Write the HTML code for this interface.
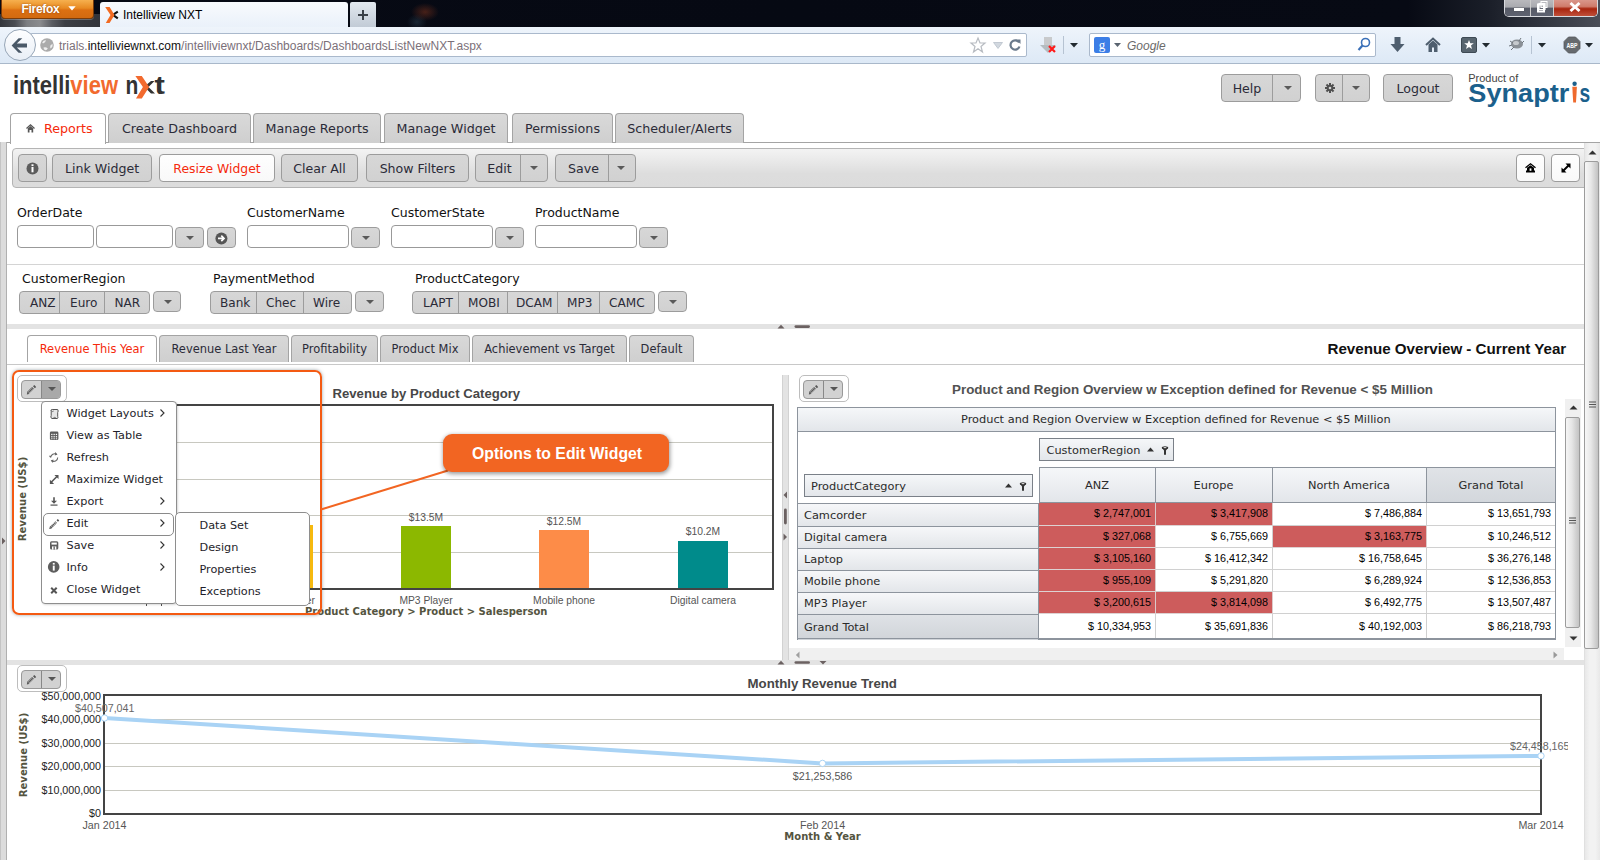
<!DOCTYPE html>
<html><head><meta charset="utf-8"><title>Intelliview NXT</title>
<style>
*{box-sizing:border-box;margin:0;padding:0}
html,body{width:1600px;height:860px;overflow:hidden;background:#fff}
body{position:relative;font-family:"DejaVu Sans","Liberation Sans",sans-serif;color:#333}
.a{position:absolute}
.ui{font-family:"DejaVu Sans",sans-serif;font-size:12.6px;color:#333;white-space:nowrap}
.ar{font-family:"Liberation Sans",Arial,sans-serif;white-space:nowrap}
svg{position:absolute;overflow:visible}
/* title bar */
#titlebar{left:0;top:0;width:1600px;height:27px;background:linear-gradient(90deg,#070a14 0,#060913 50%,#070a14 88%,#1a1e28 93%,#4a4e58 100%)}
#ffstrip{left:0;top:14px;width:100px;height:13px;background:linear-gradient(90deg,#34363c 0,#4a4c52 15%,#7c7e82 27%,#8a8b8e 40%,#5a5c62 52%,#3c3e44 65%,#32343a 100%)}
#ffbtn{left:1px;top:0;width:93px;height:19px;border-radius:0 0 4px 4px;background:linear-gradient(#f6b04e,#e88a22 45%,#dc7012 55%,#d26a10);border:1px solid #7a3c0a;border-top:none;box-shadow:0 1px 0 rgba(255,255,255,.25)}
#ffbtn span{position:absolute;left:19.5px;top:2px;color:#fff;letter-spacing:-0.3px;font:bold 12px "Liberation Sans",sans-serif;text-shadow:0 0 2px rgba(120,50,0,.8)}
#tab{left:100px;top:2px;width:248px;height:25px;background:linear-gradient(#f8fafd,#eaf1fa);border-radius:3px 3px 0 0}
#tabtitle{left:123px;top:8px;font:12px "Liberation Sans",sans-serif;color:#000}
#newtab{left:350px;top:2px;width:26px;height:25px;background:linear-gradient(#e2e8ef,#c2cbd6);border-radius:2px 2px 0 0}
#winctl{left:1504px;top:0;width:94px;height:17px;border:1px solid #d8dadf;border-top:none;border-radius:0 0 5px 5px;overflow:hidden;background:#222}
/* nav bar */
#navbar{left:0;top:27px;width:1600px;height:37px;background:linear-gradient(#eef4fb,#dde9f6);border-bottom:1px solid #a9b8ca}
#url{left:30px;top:33px;width:997px;height:24px;background:#fff;border:1px solid #aab9cc;border-radius:2px}
#urltext{left:59px;top:38.5px;font:12px "Liberation Sans",sans-serif;color:#7b7079}
#urltext b{font-weight:normal;color:#111}
#search{left:1089px;top:33px;width:287px;height:24px;background:#fff;border:1px solid #aab9cc;border-radius:2px}
#back{left:4px;top:29px;width:32px;height:32px;border-radius:50%;background:linear-gradient(#fdfeff,#e9eff6);border:1px solid #97a6b7}

/* page */
.btn{position:absolute;background:linear-gradient(#d7d7d7,#d1d1d1);border:1px solid #9c9c9c;border-radius:4px}
.btn .t{position:absolute;left:0;right:0;text-align:center;font-family:"DejaVu Sans",sans-serif;font-size:12.6px;color:#2b2b38;white-space:nowrap}
.dv{position:absolute;top:0;bottom:0;width:1px;background:#9c9c9c}
.tri{position:absolute;width:0;height:0;border-left:4px solid transparent;border-right:4px solid transparent;border-top:4px solid #5a5a5a}
.mtab{position:absolute;top:113px;height:30px;background:linear-gradient(#d9d9d9,#cfcfcf);border:1px solid #a4a4a4;border-bottom:none;border-radius:4px 4px 0 0}
.mtab .t{position:absolute;left:0;right:0;top:7px;text-align:center;font-family:"DejaVu Sans",sans-serif;font-size:12.7px;color:#2b2b38;white-space:nowrap}

.wbtn{position:absolute;background:linear-gradient(#fefefe,#f9f9f9);border:1px solid #9c9c9c;border-radius:4px}
.lbl{position:absolute;font-family:"DejaVu Sans",sans-serif;font-size:12.5px;line-height:15px;color:#111;white-space:nowrap}
.inp{position:absolute;top:225px;height:23px;background:#fff;border:1px solid #999;border-radius:4px}
.sg{position:absolute;font-family:"DejaVu Sans",sans-serif;font-size:12.1px;line-height:15px;color:#2b2b38;white-space:nowrap}

.dtab{position:absolute;top:335px;height:26.5px;background:linear-gradient(#d8d8d8,#cfcfcf);border:1px solid #a4a4a4;border-bottom:none;border-radius:4px 4px 0 0}
.dtab .t{position:absolute;left:0;right:0;top:6px;text-align:center;font-family:"DejaVu Sans",sans-serif;font-size:11.45px;line-height:15px;color:#2b2b38;white-space:nowrap}
.wtb{position:absolute;width:50px;height:27px;border:1px solid #bdbdbd;border-radius:5px;background:#fff}
.wtb .g{position:absolute;left:3px;top:4px;width:40px;height:19px;border:1px solid #999;border-radius:4px;background:#d2d2d2;overflow:hidden}
.gl{position:absolute;left:0;right:0;height:1px;background:#c8c8c0}
.bl{position:absolute;font-family:"Liberation Sans",Arial,sans-serif;font-size:10.3px;line-height:12px;color:#555;white-space:nowrap;transform:translateX(-50%)}

.mi{position:absolute;left:24.5px;font-family:"DejaVu Sans",sans-serif;font-size:11.25px;line-height:14px;color:#1e1e2a;white-space:nowrap}
.chev{position:absolute;left:118px;width:5px;height:8px}

.th{position:absolute;background:linear-gradient(#f5f7f9,#e3e6ea);border:1px solid #8d949d}
.tt{position:absolute;font-family:"DejaVu Sans",sans-serif;font-size:11.35px;line-height:14px;color:#2a2a2a;white-space:nowrap}
.rh{position:absolute;left:797px;width:242px;background:linear-gradient(#f6f7f9,#e2e5e9);border:1px solid #8d949d;border-bottom:none}
.rh .tt{left:6px}
.c{position:absolute;border-right:1px solid #d0d0d0;border-bottom:1px solid #d0d0d0;background:#fff;font-family:"Liberation Sans",Arial,sans-serif;font-size:10.8px;color:#000;text-align:right;padding-right:4px;padding-bottom:4.5px;white-space:nowrap}
.c.r{background:#cd5c5c;border-right-color:#dccaca;border-bottom-color:#ddd2d2}
</style></head><body>

<!-- ========== BROWSER CHROME ========== -->
<div class="a" id="titlebar"></div>
<div class="a" id="ffstrip"></div>
<div class="a" style="left:395px;top:0;width:50px;height:27px;background:radial-gradient(ellipse 14px 9px at 30px 12px,rgba(150,60,30,.45),rgba(0,0,0,0)),radial-gradient(ellipse 10px 8px at 22px 22px,rgba(60,90,110,.35),rgba(0,0,0,0))"></div>
<div class="a" id="ffbtn"><span>Firefox</span>
 <svg style="left:65.5px;top:6px" width="9" height="6"><path d="M0.3 0.3H7.7L4 4.5Z" fill="#fff"/></svg></div>
<div class="a" id="tab"></div>
<svg style="left:105px;top:7px" width="14" height="16"><path d="M8.6 7.4L12.8 4.6M8.6 8.4L12.8 11.4" stroke="#111" stroke-width="2.1"/><path d="M0.2 0.1H4.6L9.5 7.9L4.6 15.9H0.8L5.5 7.9Z" fill="#f26a21"/></svg>
<div class="a" id="tabtitle">Intelliview NXT</div>
<div class="a" id="newtab"></div>
<svg style="left:357px;top:9px" width="12" height="12"><path d="M6 1V11M1 6H11" stroke="#3a4048" stroke-width="2"/></svg>
<div class="a" id="winctl">
  <div class="a" style="left:0;top:0;width:26px;height:16px;background:linear-gradient(#b9b9bd 0,#a9aaaf 45%,#565a66 50%,#5e6270 100%);border-right:1px solid #ccc"></div>
  <div class="a" style="left:26px;top:0;width:23px;height:16px;background:linear-gradient(#b9b9bd 0,#a9aaaf 45%,#565a66 50%,#5e6270 100%);border-right:1px solid #ccc"></div>
  <div class="a" style="left:49px;top:0;width:44px;height:16px;background:linear-gradient(#d9968a 0,#d07c6c 40%,#a8240e 55%,#c0503a 100%)"></div>
  <div class="a" style="left:9px;top:8px;width:10px;height:3px;background:#fff;box-shadow:0 0 1px #333"></div>
  <svg style="left:32px;top:1px" width="12" height="12"><rect x="4" y="0.5" width="6" height="6" fill="none" stroke="#fff" stroke-width="1"/><rect x="2" y="2.5" width="6" height="6" fill="none" stroke="#fff" stroke-width="1.2"/><rect x="1" y="3.5" width="6" height="7" fill="none" stroke="#fff" stroke-width="2"/></svg>
  <svg style="left:64px;top:2px" width="12" height="10"><path d="M1.5 1L10.5 9M10.5 1L1.5 9" stroke="#fff" stroke-width="3"/></svg>
</div>
<div class="a" id="navbar"></div>
<div class="a" id="url"></div>
<div class="a" id="back"></div>
<svg style="left:11px;top:36.5px" width="17" height="17"><path d="M0.6 8.5L7.6 1.3H11.3L5.8 6.6H16V10.4H5.8L11.3 15.7H7.6Z" fill="#4a5968"/></svg>
<svg style="left:40px;top:37.7px" width="15" height="15"><circle cx="7" cy="7" r="6.8" fill="#ababab"/><path d="M2.2 4.5Q3.5 2 6 2.3Q5.5 4.5 3 5.5Z" fill="#eee"/><path d="M3.5 9.5Q6 8.5 7.8 10.5Q7 12.5 5 12.3Q3.5 11 3.5 9.5Z" fill="#eee"/><path d="M10.5 7.5Q12 5.5 12.8 6.5Q12.8 9.5 10.5 10.5Q9.8 9 10.5 7.5Z" fill="#eee"/></svg>
<div class="a" id="urltext">trials.<b>intelliviewnxt.com</b>/intelliviewnxt/Dashboards/DashboardsListNewNXT.aspx</div>
<svg style="left:970px;top:37px" width="16" height="16"><path d="M8 1L10 6H15L11 9.5L12.5 15L8 11.8L3.5 15L5 9.5L1 6H6Z" fill="#fff" stroke="#b8bcc2" stroke-width="1.2"/></svg>
<svg style="left:993px;top:42px" width="10" height="7"><path d="M0.5 0.5H9.5L5 6.5Z" fill="#d2d8df" stroke="#b8c0ca" stroke-width=".8"/></svg>
<svg style="left:1009px;top:38px" width="12" height="13"><path d="M10 4.5A4.6 4.6 0 1 0 10.5 8.5" fill="none" stroke="#6a7a8c" stroke-width="2.2"/><path d="M7 1.5H11.5V6Z" fill="#6a7a8c"/></svg>
<svg style="left:1040px;top:37px" width="17" height="17"><rect x="4" y="0" width="8" height="8" fill="#c8cacc"/><path d="M0 8H16L8 16Z" fill="#b4bcc0"/><path d="M9 9L15 15M15 9L9 15" stroke="#ff1a1a" stroke-width="2.2"/></svg>
<div class="a" style="left:1063px;top:36px;width:1px;height:18px;background:#b6c3d2"></div>
<svg style="left:1070px;top:43px" width="8" height="5"><path d="M0 0H8L4 4.5Z" fill="#222a30"/></svg>
<div class="a" id="search"></div>
<div class="a" style="left:1094px;top:37px;width:16px;height:16px;background:#3c7ee6;border-radius:2px;color:#fff;font:13px 'Liberation Serif',serif;text-align:center;line-height:15px">g</div>
<svg style="left:1114px;top:43px" width="7" height="4"><path d="M0 0H7L3.5 4Z" fill="#5a6470"/></svg>
<div class="a" style="left:1127px;top:39px;font:italic 12px 'Liberation Sans',sans-serif;color:#6a6a6a">Google</div>
<svg style="left:1357px;top:37px" width="14" height="15"><circle cx="8.5" cy="5.5" r="4" fill="none" stroke="#3a70b8" stroke-width="1.6"/><path d="M5.5 8.5L1.5 13" stroke="#3a70b8" stroke-width="2.2"/></svg>
<svg style="left:1390px;top:37px" width="15" height="16"><path d="M4.5 0H10.5V7H14.5L7.5 15L0.5 7H4.5Z" fill="#4e5e6e"/></svg>
<svg style="left:1425px;top:37px" width="16" height="16"><path d="M1 8L8 1.5L15 8" fill="none" stroke="#4e5e6e" stroke-width="2"/><path d="M3.5 7.5V15H7V10.5H9V15H12.5V7.5L8 3.5Z" fill="#4e5e6e"/></svg>
<svg style="left:1461px;top:37px" width="17" height="16"><rect x="0.5" y="0.5" width="15" height="15" rx="1.5" fill="#58656f" stroke="#3e4a54"/><path d="M8 3L9.3 6.3H12.8L10 8.5L11 12L8 10L5 12L6 8.5L3.2 6.3H6.7Z" fill="#fff"/></svg>
<svg style="left:1482px;top:43px" width="8" height="5"><path d="M0 0H8L4 4.5Z" fill="#222a30"/></svg>
<svg style="left:1508px;top:37px" width="17" height="15"><ellipse cx="9" cy="7" rx="6" ry="4.5" fill="#8a9096"/><ellipse cx="8" cy="6" rx="3" ry="2" fill="#c6cacd"/><path d="M2 4L5 6M1 9L4 8M3 13L6 10M13 1L11 4M16 4L14 6" stroke="#6f767c" stroke-width="1"/></svg>
<div class="a" style="left:1531px;top:36px;width:1px;height:18px;background:#b6c3d2"></div>
<svg style="left:1538px;top:43px" width="8" height="5"><path d="M0 0H8L4 4.5Z" fill="#222a30"/></svg>
<svg style="left:1563px;top:36px" width="18" height="18"><path d="M5.5 1H12.5L17 5.5V12.5L12.5 17H5.5L1 12.5V5.5Z" fill="#666a6e" stroke="#55595d" stroke-width=".8"/><text x="9" y="11.8" font-family="Liberation Sans" font-size="6.5" font-weight="bold" fill="#fff" text-anchor="middle" textLength="11" lengthAdjust="spacingAndGlyphs">ABP</text></svg>
<svg style="left:1585px;top:43px" width="8" height="5"><path d="M0 0H8L4 4.5Z" fill="#222a30"/></svg>

<!-- PAGE -->
<!-- logo -->
<svg style="left:12px;top:70px" width="160" height="32">
 <text x="1" y="24" font-family="Liberation Sans" font-weight="bold" font-size="25.5" fill="#333" textLength="105" lengthAdjust="spacingAndGlyphs">intelli<tspan fill="#f26a2e">view</tspan></text>
 <text x="113.5" y="24" font-family="Liberation Sans" font-weight="bold" font-size="25.5" fill="#333" textLength="12.8" lengthAdjust="spacingAndGlyphs">n</text>
 <path d="M133 16L139 11H142.5L136 17.5Z M133 17.5L136 16.5L143 23.6H139Z" fill="#333"/>
 <path d="M123.4 6H129.8L137.2 16.9L129.8 28.5H124L130.9 16.9Z" fill="#f26a2e"/>
 <text x="142.4" y="24" font-family="Liberation Sans" font-weight="bold" font-size="25.5" fill="#333" textLength="10.4" lengthAdjust="spacingAndGlyphs">t</text>
</svg>
<!-- header buttons -->
<div class="btn" style="left:1221px;top:74px;width:80px;height:28px"><div class="t" style="top:6px;width:50px">Help</div><div class="dv" style="left:50px"></div><div class="tri" style="left:62px;top:11px"></div></div>
<div class="btn" style="left:1315px;top:74px;width:55px;height:28px"><div class="dv" style="left:26px"></div><div class="tri" style="left:36px;top:11px"></div>
 <svg style="left:9px;top:8px" width="10" height="10"><g fill="#505050"><circle cx="5" cy="5" r="3.3"/><rect x="4" y="0" width="2" height="10"/><rect x="0" y="4" width="10" height="2"/><rect x="4" y="0" width="2" height="10" transform="rotate(45 5 5)"/><rect x="4" y="0" width="2" height="10" transform="rotate(-45 5 5)"/></g><circle cx="5" cy="5" r="1.3" fill="#d4d4d4"/></svg></div>
<div class="btn" style="left:1383px;top:74px;width:70px;height:28px"><div class="t" style="top:6px">Logout</div></div>
<svg style="left:1466px;top:70px" width="60" height="14"><text x="2.3" y="11.6" font-family="Liberation Sans" font-size="10.3" fill="#444" textLength="49.9" lengthAdjust="spacingAndGlyphs">Product of</text></svg>
<svg style="left:1466px;top:78px" width="130" height="34">
 <text x="2.3" y="24.1" font-family="Liberation Sans" font-weight="bold" font-size="26.5" fill="#1b608c" textLength="101" lengthAdjust="spacingAndGlyphs">Synaptr</text>
 <path d="M106.3 8.8H110.9L110 24.6H107.2Z" fill="#ef6a2e"/><circle cx="108.6" cy="5.7" r="2.2" fill="#1b608c"/>
 <text x="113.4" y="24.1" font-family="Liberation Sans" font-weight="bold" font-size="26.5" fill="#1b608c" textLength="10.7" lengthAdjust="spacingAndGlyphs">s</text>
</svg>
<!-- main tabs -->
<div class="a" style="left:0;top:142px;width:1600px;height:1px;background:#a4a4a4"></div>
<div class="mtab" style="left:10px;width:96px;height:31px;background:#fff"><div class="t" style="left:33px;text-align:left;color:#f52a0c">Reports</div>
 <svg style="left:15px;top:10px" width="9" height="9"><path d="M0.5 4.5L4.5 0.8L8.5 4.5" fill="none" stroke="#555" stroke-width="1.3"/><path d="M1.8 4.5L4.5 2L7.2 4.5V8.5H5.5V6H3.5V8.5H1.8Z" fill="#555"/></svg></div>
<div class="mtab" style="left:108px;width:143px"><div class="t">Create Dashboard</div></div>
<div class="mtab" style="left:253px;width:128px"><div class="t">Manage Reports</div></div>
<div class="mtab" style="left:384px;width:124px"><div class="t">Manage Widget</div></div>
<div class="mtab" style="left:512px;width:101px"><div class="t">Permissions</div></div>
<div class="mtab" style="left:615px;width:129px"><div class="t">Scheduler/Alerts</div></div>


<!-- content frame -->
<div class="a" style="left:0;top:142px;width:7px;height:718px;background:#dcdcdc;border-left:1px solid #c4c4c4;border-right:1px solid #b0b0b0"></div>
<!-- toolbar -->
<div class="a" style="left:12px;top:148px;width:1580px;height:40px;border:1px solid #b4b4b4;border-radius:4px;background:linear-gradient(#f3f3f3,#e6e6e6 40%,#dddddd 65%,#dcdcdc)"></div>
<div class="btn" style="left:18px;top:154px;width:29px;height:28px"><svg style="left:7px;top:7px" width="13" height="13"><circle cx="6.5" cy="6.5" r="6" fill="#5c5c5c"/><rect x="5.5" y="2.3" width="2" height="1.8" fill="#fff"/><rect x="5.5" y="5" width="2" height="5.3" fill="#fff"/></svg></div>
<div class="btn" style="left:52px;top:154px;width:100px;height:28px"><div class="t" style="top:6px">Link Widget</div></div>
<div class="wbtn" style="left:159px;top:154px;width:116px;height:28px"><div class="t" style="position:absolute;left:0;right:0;top:6px;text-align:center;font-family:'DejaVu Sans';font-size:12.4px;color:#f52a0c">Resize Widget</div></div>
<div class="btn" style="left:281px;top:154px;width:77px;height:28px"><div class="t" style="top:6px">Clear All</div></div>
<div class="btn" style="left:366px;top:154px;width:103px;height:28px"><div class="t" style="top:6px">Show Filters</div></div>
<div class="btn" style="left:475px;top:154px;width:73px;height:28px"><div class="t" style="top:6px;width:44px;padding-left:3px">Edit</div><div class="dv" style="left:44px"></div><div class="tri" style="left:54px;top:11px"></div></div>
<div class="btn" style="left:555px;top:154px;width:81px;height:28px"><div class="t" style="top:6px;width:52px;padding-left:3px">Save</div><div class="dv" style="left:52px"></div><div class="tri" style="left:61px;top:11px"></div></div>
<div class="wbtn" style="left:1516px;top:154px;width:29px;height:28px"><svg style="left:8px;top:8px" width="11" height="10"><path d="M0.5 4.8L5.5 0.8L10.5 4.8" fill="none" stroke="#000" stroke-width="1.3"/><path d="M2 4.8L5.5 2.2L9 4.8V7.6H10V9.4H1V7.6H2Z" fill="#000"/><rect x="4.6" y="5.4" width="1.8" height="2.4" fill="#fff"/></svg></div>
<div class="wbtn" style="left:1551px;top:154px;width:29px;height:28px"><svg style="left:9px;top:8px" width="10" height="10"><path d="M2 8L8 2" stroke="#000" stroke-width="2"/><path d="M4.5 0.5H9.5V5.5Z M0.5 4.5V9.5H5.5Z" fill="#000"/></svg></div>
<!-- filters row 1 -->
<div class="lbl" style="left:17px;top:205px">OrderDate</div>
<div class="inp" style="left:17px;width:77px"></div><div class="inp" style="left:96px;width:77px"></div>
<div class="btn" style="left:175px;top:227px;width:29px;height:21px"><div class="tri" style="left:10px;top:8px"></div></div>
<div class="btn" style="left:207px;top:227px;width:29px;height:21px"><svg style="left:6.5px;top:3.8px" width="13" height="13"><circle cx="6.4" cy="6.4" r="6" fill="#555"/><path d="M3 6.4H8.6M6.3 3.7L9 6.4L6.3 9.1" fill="none" stroke="#fff" stroke-width="1.7"/></svg></div>
<div class="lbl" style="left:247px;top:205px">CustomerName</div>
<div class="inp" style="left:247px;width:102px"></div>
<div class="btn" style="left:351px;top:227px;width:29px;height:21px"><div class="tri" style="left:10px;top:8px"></div></div>
<div class="lbl" style="left:391px;top:205px">CustomerState</div>
<div class="inp" style="left:391px;width:102px"></div>
<div class="btn" style="left:495px;top:227px;width:29px;height:21px"><div class="tri" style="left:10px;top:8px"></div></div>
<div class="lbl" style="left:535px;top:205px">ProductName</div>
<div class="inp" style="left:535px;width:102px"></div>
<div class="btn" style="left:639px;top:227px;width:29px;height:21px"><div class="tri" style="left:10px;top:8px"></div></div>
<div class="a" style="left:7px;top:264px;width:1577px;height:1px;background:#d4d4d4"></div>
<!-- filters row 2 -->
<div class="lbl" style="left:22px;top:271px">CustomerRegion</div>
<div class="btn" style="left:19px;top:291px;width:131px;height:23px"><div class="dv" style="left:39.4px"></div><div class="dv" style="left:83.5px"></div>
 <div class="sg" style="top:3.6px;left:10px;">ANZ</div><div class="sg" style="top:3.6px;left:50px;">Euro</div><div class="sg" style="top:3.6px;left:94.5px;">NAR</div></div>
<div class="btn" style="left:153px;top:291px;width:28px;height:21px"><div class="tri" style="left:9.5px;top:8px"></div></div>
<div class="lbl" style="left:213px;top:271px">PaymentMethod</div>
<div class="btn" style="left:210px;top:291px;width:142px;height:23px"><div class="dv" style="left:45px"></div><div class="dv" style="left:91.5px"></div>
 <div class="sg" style="top:3.6px;left:9px;">Bank</div><div class="sg" style="top:3.6px;left:55px;">Chec</div><div class="sg" style="top:3.6px;left:102px;">Wire</div></div>
<div class="btn" style="left:355px;top:291px;width:29px;height:21px"><div class="tri" style="left:10px;top:8px"></div></div>
<div class="lbl" style="left:415px;top:271px">ProductCategory</div>
<div class="btn" style="left:412px;top:291px;width:243px;height:23px"><div class="dv" style="left:44.5px"></div><div class="dv" style="left:93.5px"></div><div class="dv" style="left:144px"></div><div class="dv" style="left:185.5px"></div>
 <div class="sg" style="top:3.6px;left:10px;">LAPT</div><div class="sg" style="top:3.6px;left:55px;">MOBI</div><div class="sg" style="top:3.6px;left:103px;">DCAM</div><div class="sg" style="top:3.6px;left:154px;">MP3</div><div class="sg" style="top:3.6px;left:196px;">CAMC</div></div>
<div class="btn" style="left:658px;top:291px;width:29px;height:21px"><div class="tri" style="left:10px;top:8px"></div></div>
<!-- splitter -->
<div class="a" style="left:7px;top:324px;width:1577px;height:5px;background:#e3e3e3"></div>
<svg style="left:777px;top:324px" width="40" height="6"><path d="M0.5 4.5L4 0.8L7.5 4.5Z" fill="#6b6161"/><rect x="17.5" y="1.3" width="15.5" height="2.6" rx="1.3" fill="#6b6161"/></svg>

<!-- dashboard tabs -->
<div class="a" style="left:7px;top:364px;width:1577px;height:1px;background:#c8c8c8"></div>
<div class="dtab" style="left:27px;width:130px;background:#fff"><div class="t" style="color:#f52a0c">Revenue This Year</div></div>
<div class="dtab" style="left:159px;width:130px"><div class="t">Revenue Last Year</div></div>
<div class="dtab" style="left:291px;width:87px"><div class="t">Profitability</div></div>
<div class="dtab" style="left:380px;width:90px"><div class="t">Product Mix</div></div>
<div class="dtab" style="left:472px;width:155px"><div class="t">Achievement vs Target</div></div>
<div class="dtab" style="left:629px;width:65px"><div class="t">Default</div></div>
<div class="a ar" style="left:1327.5px;top:340px;font-size:15.15px;font-weight:bold;color:#111;line-height:17px">Revenue Overview - Current Year</div>

<!-- vertical splitter -->
<div class="a" style="left:782px;top:375px;width:7px;height:285px;background:#e3e3e3;border-left:1px solid #d2d2d2;border-right:1px solid #d2d2d2"></div>
<svg style="left:782px;top:491px" width="7" height="50"><path d="M5 0.5V7.5L1.5 4Z" fill="#6b6161"/><rect x="2" y="17.5" width="2.8" height="16" rx="1.4" fill="#6b6161"/><path d="M1.5 42.5V49.5L5 46Z" fill="#6b6161"/></svg>

<!-- ===== CHART WIDGET (left) ===== -->
<div class="wtb" style="left:17px;top:375px"><div class="g"><div class="a" style="left:20px;top:0;width:19px;height:19px;background:#a9a9a9"></div><div class="dv" style="left:19px;background:#888"></div>
 <svg style="left:5px;top:4px" width="10" height="10"><path d="M0.8 8L6 2.8" stroke="#555" stroke-width="2.6" stroke-dasharray="1.1 .45"/><path d="M7.3 0L9.2 1.9L7.9 3.2L6 1.3Z" fill="#555"/><path d="M-0.2 9.6L0.3 7.2L2 8.9Z" fill="#555"/></svg>
 <div class="tri" style="left:25.5px;top:6px;border-top-color:#555;border-left-width:4.2px;border-right-width:4.2px;border-top-width:4.5px"></div></div></div>
<div class="a ar" style="left:332.5px;top:386px;font-size:13.15px;font-weight:bold;color:#474747;line-height:15px">Revenue by Product Category</div>
<!-- plot -->
<div class="a" style="left:60px;top:404px;width:714px;height:186px;border:2px solid #444;border-bottom-width:2.5px"></div>
<div class="gl" style="left:62px;width:710px;top:442px"></div>
<div class="gl" style="left:62px;width:710px;top:479px"></div>
<div class="gl" style="left:62px;width:710px;top:515px"></div>
<div class="gl" style="left:62px;width:710px;top:552px"></div>
<div class="a" style="left:263px;top:525px;width:50px;height:63px;background:#f6b90f"></div>
<div class="a" style="left:401px;top:526px;width:50px;height:62px;background:#8cb800"></div>
<div class="a" style="left:539px;top:530px;width:50px;height:58px;background:#fd8c48"></div>
<div class="a" style="left:678px;top:541px;width:50px;height:47px;background:#008b8b"></div>
<div class="bl" style="left:426px;top:512px">$13.5M</div>
<div class="bl" style="left:564px;top:516px">$12.5M</div>
<div class="bl" style="left:703px;top:525.5px">$10.2M</div>
<div class="bl" style="left:289.5px;top:595px">Camcorder</div>
<div class="bl" style="left:426px;top:595px">MP3 Player</div>
<div class="bl" style="left:564px;top:595px">Mobile phone</div>
<div class="bl" style="left:703px;top:595px">Digital camera</div>
<div class="a" style="left:305px;top:606px;font-family:'DejaVu Sans';font-weight:bold;font-size:10px;line-height:12px;color:#545440;white-space:nowrap">Product Category &gt; Product &gt; Salesperson</div>
<div class="a" style="left:23px;top:498.5px;width:0;height:0"><div style="position:absolute;left:-45px;top:-6px;width:90px;text-align:center;transform:rotate(-90deg);font-family:'DejaVu Sans';font-weight:bold;font-size:10.1px;line-height:12px;color:#545440;white-space:nowrap">Revenue (US$)</div></div>

<!-- ===== TABLE WIDGET (right) ===== -->
<div class="wtb" style="left:799px;top:375px"><div class="g"><div class="dv" style="left:19px;background:#888"></div>
 <svg style="left:5px;top:4px" width="10" height="10"><path d="M0.8 8L6 2.8" stroke="#555" stroke-width="2.6" stroke-dasharray="1.1 .45"/><path d="M7.3 0L9.2 1.9L7.9 3.2L6 1.3Z" fill="#555"/><path d="M-0.2 9.6L0.3 7.2L2 8.9Z" fill="#555"/></svg>
 <div class="tri" style="left:25.5px;top:6px;border-top-color:#555;border-left-width:4.2px;border-right-width:4.2px;border-top-width:4.5px"></div></div></div>
<div class="a ar" style="left:952px;top:382px;font-size:13.4px;font-weight:bold;color:#525252;line-height:16px">Product and Region Overview w Exception defined for Revenue &lt; $5 Million</div>
<div class="a" style="left:797px;top:407px;width:759px;height:233px;border:1px solid #8d949d;background:#fff"></div>
<div class="th" style="left:797px;top:407px;width:759px;height:25px"></div>
<div class="tt" style="left:961px;top:412px">Product and Region Overview w Exception defined for Revenue &lt; $5 Million</div>
<div class="th" style="left:1039px;top:438px;width:135px;height:23px;border-color:#7a8088"></div><div class="tt" style="left:1046.5px;top:442.7px">CustomerRegion</div>
<svg style="left:1146px;top:446px" width="24" height="10"><path d="M1 5.5L4.5 1.5L8 5.5Z" fill="#333"/><path d="M15.8 1.3H22.2L20 4.6V8.8H18V4.6Z" fill="#333"/><ellipse cx="19" cy="1.8" rx="3.2" ry="1.5" fill="#333"/><ellipse cx="19" cy="1.6" rx="1.6" ry=".6" fill="#ddd"/></svg>
<div class="th" style="left:804px;top:474px;width:229px;height:23px;border-color:#7a8088"></div><div class="tt" style="left:811px;top:478.7px">ProductCategory</div>
<svg style="left:1004px;top:482px" width="24" height="10"><path d="M1 5.5L4.5 1.5L8 5.5Z" fill="#333"/><path d="M15.8 1.3H22.2L20 4.6V8.8H18V4.6Z" fill="#333"/><ellipse cx="19" cy="1.8" rx="3.2" ry="1.5" fill="#333"/><ellipse cx="19" cy="1.6" rx="1.6" ry=".6" fill="#ddd"/></svg>
<div class="th" style="left:1039px;top:467px;width:117px;height:36px;"></div>
<div class="tt" style="left:1039px;width:116px;text-align:center;top:478px">ANZ</div>
<div class="th" style="left:1155px;top:467px;width:118px;height:36px;"></div>
<div class="tt" style="left:1155px;width:117px;text-align:center;top:478px">Europe</div>
<div class="th" style="left:1272px;top:467px;width:155px;height:36px;"></div>
<div class="tt" style="left:1272px;width:154px;text-align:center;top:478px">North America</div>
<div class="th" style="left:1426px;top:467px;width:130px;height:36px;background:linear-gradient(#e0e3e7,#d3d7dc);"></div>
<div class="tt" style="left:1426px;width:130px;text-align:center;top:478px">Grand Total</div>
<div class="rh" style="top:503px;height:23.5px;"><div class="tt" style="top:3.8px">Camcorder</div></div>
<div class="c r" style="left:1039px;top:503px;width:117px;height:22.5px;line-height:20.5px">$ 2,747,001</div>
<div class="c r" style="left:1156px;top:503px;width:117px;height:22.5px;line-height:20.5px">$ 3,417,908</div>
<div class="c" style="left:1273px;top:503px;width:154px;height:22.5px;line-height:20.5px">$ 7,486,884</div>
<div class="c" style="left:1427px;top:503px;width:129px;height:22.5px;line-height:20.5px">$ 13,651,793</div>
<div class="rh" style="top:525.5px;height:23.0px;"><div class="tt" style="top:3.5px">Digital camera</div></div>
<div class="c r" style="left:1039px;top:525.5px;width:117px;height:22.0px;line-height:20.0px">$ 327,068</div>
<div class="c" style="left:1156px;top:525.5px;width:117px;height:22.0px;line-height:20.0px">$ 6,755,669</div>
<div class="c r" style="left:1273px;top:525.5px;width:154px;height:22.0px;line-height:20.0px">$ 3,163,775</div>
<div class="c" style="left:1427px;top:525.5px;width:129px;height:22.0px;line-height:20.0px">$ 10,246,512</div>
<div class="rh" style="top:547.5px;height:23.0px;"><div class="tt" style="top:3.5px">Laptop</div></div>
<div class="c r" style="left:1039px;top:547.5px;width:117px;height:22.0px;line-height:20.0px">$ 3,105,160</div>
<div class="c" style="left:1156px;top:547.5px;width:117px;height:22.0px;line-height:20.0px">$ 16,412,342</div>
<div class="c" style="left:1273px;top:547.5px;width:154px;height:22.0px;line-height:20.0px">$ 16,758,645</div>
<div class="c" style="left:1427px;top:547.5px;width:129px;height:22.0px;line-height:20.0px">$ 36,276,148</div>
<div class="rh" style="top:569.5px;height:23.0px;"><div class="tt" style="top:3.5px">Mobile phone</div></div>
<div class="c r" style="left:1039px;top:569.5px;width:117px;height:22.0px;line-height:20.0px">$ 955,109</div>
<div class="c" style="left:1156px;top:569.5px;width:117px;height:22.0px;line-height:20.0px">$ 5,291,820</div>
<div class="c" style="left:1273px;top:569.5px;width:154px;height:22.0px;line-height:20.0px">$ 6,289,924</div>
<div class="c" style="left:1427px;top:569.5px;width:129px;height:22.0px;line-height:20.0px">$ 12,536,853</div>
<div class="rh" style="top:591.5px;height:23.0px;"><div class="tt" style="top:3.5px">MP3 Player</div></div>
<div class="c r" style="left:1039px;top:591.5px;width:117px;height:22.0px;line-height:20.0px">$ 3,200,615</div>
<div class="c r" style="left:1156px;top:591.5px;width:117px;height:22.0px;line-height:20.0px">$ 3,814,098</div>
<div class="c" style="left:1273px;top:591.5px;width:154px;height:22.0px;line-height:20.0px">$ 6,492,775</div>
<div class="c" style="left:1427px;top:591.5px;width:129px;height:22.0px;line-height:20.0px">$ 13,507,487</div>
<div class="rh" style="top:613.5px;height:26.5px;background:linear-gradient(#dfe2e6,#d0d4d9);"><div class="tt" style="top:5.2px">Grand Total</div></div>
<div class="c" style="left:1039px;top:613.5px;width:117px;height:25.5px;line-height:25.5px;padding-bottom:3px;">$ 10,334,953</div>
<div class="c" style="left:1156px;top:613.5px;width:117px;height:25.5px;line-height:25.5px;padding-bottom:3px;">$ 35,691,836</div>
<div class="c" style="left:1273px;top:613.5px;width:154px;height:25.5px;line-height:25.5px;padding-bottom:3px;">$ 40,192,003</div>
<div class="c" style="left:1427px;top:613.5px;width:129px;height:25.5px;line-height:25.5px;padding-bottom:3px;">$ 86,218,793</div>
<div class="a" style="left:797px;top:638px;width:759px;height:1px;background:#8d949d"></div>
<div class="a" style="left:1555px;top:407px;width:1px;height:232px;background:#8d949d"></div>
<div class="a" style="left:1565px;top:399px;width:16px;height:248px;background:#f0f0f0"></div>
<svg style="left:1569px;top:405px" width="9" height="5"><path d="M0.5 4.5L4.5 0.5L8.5 4.5Z" fill="#333"/></svg>
<div class="a" style="left:1565px;top:417px;width:15px;height:211px;border:1px solid #9c9c9c;border-radius:2px;background:linear-gradient(90deg,#f6f6f6,#e6e6e6 45%,#cfcfcf 80%,#c4c4c4)"></div>
<svg style="left:1568px;top:517px" width="9" height="8"><path d="M1 1H8M1 3.5H8M1 6H8" stroke="#555" stroke-width="1.2"/></svg>
<svg style="left:1569px;top:636px" width="9" height="5"><path d="M0.5 0.5H8.5L4.5 4.5Z" fill="#333"/></svg>
<div class="a" style="left:789px;top:648px;width:775px;height:12px;background:#f0f0f0"></div>
<svg style="left:795px;top:651px" width="5" height="8"><path d="M4.5 0.5V7.5L0.8 4Z" fill="#a0a0a0"/></svg>
<svg style="left:1553px;top:651px" width="5" height="8"><path d="M0.5 0.5V7.5L4.5 4Z" fill="#999"/></svg>
<!-- bottom splitter -->
<div class="a" style="left:7px;top:660px;width:1577px;height:5px;background:#e3e3e3"></div>
<svg style="left:777px;top:660px" width="52" height="6"><path d="M0.5 4.5L4 0.8L7.5 4.5Z" fill="#6b6161"/><rect x="17.5" y="1.2" width="15.5" height="2.6" rx="1.3" fill="#6b6161"/><path d="M42.5 1L46 4.5L49.5 1Z" fill="#6b6161"/></svg>
<!-- stray marks -->
<div class="a" style="left:146px;top:604px;width:1px;height:2px;background:#555"></div><div class="a" style="left:161px;top:604px;width:1px;height:2px;background:#555"></div>
<!-- left collapse arrow -->
<svg style="left:1px;top:537px" width="5" height="8"><path d="M1 0.5V7.5L4.5 4Z" fill="#6b6161"/></svg>
<!-- ===== LINE CHART ===== -->
<div class="wtb" style="left:17px;top:665px;height:27px"><div class="g" style="top:4px"><div class="dv" style="left:19px;background:#888"></div>
 <svg style="left:5px;top:4px" width="10" height="10"><path d="M0.8 8L6 2.8" stroke="#555" stroke-width="2.6" stroke-dasharray="1.1 .45"/><path d="M7.3 0L9.2 1.9L7.9 3.2L6 1.3Z" fill="#555"/><path d="M-0.2 9.6L0.3 7.2L2 8.9Z" fill="#555"/></svg>
 <div class="tri" style="left:25.5px;top:6px;border-top-color:#555;border-left-width:4.2px;border-right-width:4.2px;border-top-width:4.5px"></div></div></div>
<div class="a ar" style="left:747.5px;top:676px;font-size:13.25px;font-weight:bold;color:#474747;line-height:15px">Monthly Revenue Trend</div>
<div class="gl" style="left:105px;width:1435px;top:719px"></div>
<div class="gl" style="left:105px;width:1435px;top:743px"></div>
<div class="gl" style="left:105px;width:1435px;top:766px"></div>
<div class="gl" style="left:105px;width:1435px;top:790px"></div>
<div class="a" style="left:103px;top:694px;width:440px;height:1px"></div>
<div class="a" style="left:103px;top:694px;width:1439px;height:121px;border:2px solid #444;border-bottom-width:2.5px"></div>
<svg style="left:0;top:0" width="1600" height="860">
 <polyline points="104.5,718 822.5,763.4 1541,755.9" fill="none" stroke="#a9d3f5" stroke-width="4" stroke-linejoin="round"/>
 <circle cx="104.5" cy="718" r="3.2" fill="#fff" stroke="#a9d3f5" stroke-width="1"/>
 <circle cx="822.5" cy="763.4" r="3.2" fill="#fff" stroke="#a9d3f5" stroke-width="1"/>
 <circle cx="1541" cy="755.9" r="3.2" fill="#fff" stroke="#a9d3f5" stroke-width="1"/>
</svg>
<div class="a ar" style="left:40px;top:690px;width:61px;text-align:right;font-size:10.7px;line-height:12px;color:#222">$50,000,000</div>
<div class="a ar" style="left:40px;top:713px;width:61px;text-align:right;font-size:10.7px;line-height:12px;color:#222">$40,000,000</div>
<div class="a ar" style="left:40px;top:737px;width:61px;text-align:right;font-size:10.7px;line-height:12px;color:#222">$30,000,000</div>
<div class="a ar" style="left:40px;top:760px;width:61px;text-align:right;font-size:10.7px;line-height:12px;color:#222">$20,000,000</div>
<div class="a ar" style="left:40px;top:784px;width:61px;text-align:right;font-size:10.7px;line-height:12px;color:#222">$10,000,000</div>
<div class="a ar" style="left:40px;top:807px;width:61px;text-align:right;font-size:10.7px;line-height:12px;color:#222">$0</div>
<div class="a ar" style="left:75px;top:701.5px;font-size:10.7px;line-height:12px;color:#666">$40,507,041</div>
<div class="bl" style="left:822.5px;top:769.5px;color:#555;font-size:10.7px">$21,253,586</div>
<div class="a" style="left:1510px;top:740px;width:57.8px;height:14px;overflow:hidden"><div class="ar" style="font-size:10.7px;line-height:12px;color:#666">$24,458,165</div></div>
<div class="bl" style="left:104.5px;top:819px;font-size:10.7px">Jan 2014</div>
<div class="bl" style="left:822.5px;top:819px;font-size:10.7px">Feb 2014</div>
<div class="bl" style="left:1541px;top:819px;font-size:10.7px">Mar 2014</div>
<div class="a" style="left:822.5px;top:831px;transform:translateX(-50%);font-family:'DejaVu Sans';font-weight:bold;font-size:10px;line-height:12px;color:#545440;white-space:nowrap">Month &amp; Year</div>
<div class="a" style="left:23.5px;top:754.5px;width:0;height:0"><div style="position:absolute;left:-45px;top:-6px;width:90px;text-align:center;transform:rotate(-90deg);font-family:'DejaVu Sans';font-weight:bold;font-size:10.1px;line-height:12px;color:#545440;white-space:nowrap">Revenue (US$)</div></div>
<!-- main page scrollbar -->
<div class="a" style="left:1584px;top:143px;width:16px;height:717px;background:linear-gradient(90deg,#e8e8e8,#f2f2f2 30%,#f2f2f2 70%,#e8e8e8);border-left:1px solid #e0e0e0"></div>
<svg style="left:1588px;top:150px" width="9" height="5"><path d="M0.5 4.5L4.5 0.5L8.5 4.5Z" fill="#333"/></svg>
<div class="a" style="left:1584px;top:161px;width:15px;height:488px;border:1px solid #9c9c9c;border-radius:2px;background:linear-gradient(90deg,#f7f7f7,#e8e8e8 45%,#d0d0d0 80%,#c2c2c2)"></div>
<svg style="left:1588px;top:401px" width="9" height="8"><path d="M1 1H8M1 3.5H8M1 6H8" stroke="#555" stroke-width="1.2"/></svg>

<!-- ===== OVERLAYS ===== -->
<!-- orange highlight box -->
<div class="a" style="left:12px;top:370px;width:310px;height:244.5px;border:2.1px solid #f45a12;border-radius:7px;box-shadow:0 0 3.5px rgba(50,70,80,.5)"></div>
<!-- connector -->
<svg style="left:0;top:0" width="1600" height="860"><path d="M321 509.5L448 470.5" stroke="#f26522" stroke-width="2"/></svg>
<!-- callout -->
<div class="a" style="left:443px;top:434px;width:226px;height:38px;background:#f26522;border-radius:9px;box-shadow:0.5px 1.5px 4px rgba(0,0,0,.4)"></div>
<div class="a ar" style="left:472px;top:445px;font-size:15.8px;font-weight:bold;color:#fff;line-height:18px">Options to Edit Widget</div>
<!-- context menu -->
<div class="a" style="left:41px;top:400.5px;width:135.5px;height:203px;background:#fff;border:1px solid #8e8e8e;border-radius:4px;box-shadow:1px 1px 2px rgba(0,0,0,.15)">
 <div class="a" style="left:1px;top:111px;width:131px;height:23.5px;border:1px solid #8a8a8a;border-radius:5px"></div>
 <div class="mi" style="top:5px">Widget Layouts</div>
 <div class="mi" style="top:27px">View as Table</div>
 <div class="mi" style="top:49px">Refresh</div>
 <div class="mi" style="top:71px">Maximize Widget</div>
 <div class="mi" style="top:93px">Export</div>
 <div class="mi" style="top:115px">Edit</div>
 <div class="mi" style="top:137px">Save</div>
 <div class="mi" style="top:159px">Info</div>
 <div class="mi" style="top:181px">Close Widget</div>
 <svg style="left:-0.5px;top:0" width="135" height="203">
  <g fill="none" stroke="#333" stroke-width="1.1"><path d="M118.5 7.5L122 11L118.5 14.5"/><path d="M118.5 95.5L122 99L118.5 102.5"/><path d="M118.5 117.5L122 121L118.5 124.5"/><path d="M118.5 139.5L122 143L118.5 146.5"/><path d="M118.5 161.5L122 165L118.5 168.5"/></g>
  <!-- icons -->
  <g transform="translate(-0.8,0)">
  <path d="M10 9.5Q9 7.5 11 7.5H16.5Q17.5 9 16.5 10.5V14.5Q17.5 16 16 16.5H10.5Q9 15 10 13.5Z" fill="#e6e6e6" stroke="#555" stroke-width="1"/>
  <path d="M10.2 9.2Q11.5 10 12.5 9M12 16.2Q13 15 14.5 15.5" fill="none" stroke="#555" stroke-width=".8"/>
  <g transform="translate(0,-1.2)">
  <rect x="8.7" y="30.8" width="8.5" height="8.5" rx="1.3" fill="#5a5a5a"/>
  <g fill="#fff"><rect x="10" y="33" width="1.3" height="1.3"/><rect x="12.3" y="33" width="1.3" height="1.3"/><rect x="14.6" y="33" width="1.3" height="1.3"/><rect x="10" y="35.3" width="1.3" height="1.3"/><rect x="12.3" y="35.3" width="1.3" height="1.3"/><rect x="14.6" y="35.3" width="1.3" height="1.3"/><rect x="10" y="37.5" width="1.3" height="1"/><rect x="12.3" y="37.5" width="1.3" height="1"/><rect x="14.6" y="37.5" width="1.3" height="1"/></g>
  </g>
  <g transform="translate(0,-2)">
  <path d="M15.5 54.5A3.8 3.8 0 0 0 9.5 57.5M9.5 57.5L8.3 55.8M10.3 60.5A3.8 3.8 0 0 0 16.5 57.5" fill="none" stroke="#666" stroke-width="1.1"/><path d="M14 52L16.3 54.6L13.6 55.6Z M11.8 63L9.5 60.4L12.2 59.4Z" fill="#666"/>
  </g>
  <g transform="translate(0,-1.3)">
  <path d="M10 81.5L16.5 75" stroke="#555" stroke-width="1.6"/><path d="M13.2 74.2H17.3V78.3Z M8.7 79V83.2H12.9Z" fill="#555"/>
  <path d="M12.8 96.5V101.5" stroke="#555" stroke-width="1.6"/><path d="M9.8 100H15.8L12.8 103Z" fill="#555"/><rect x="9.3" y="103.8" width="7" height="1.2" fill="#555"/>
  </g>
  <g transform="translate(0,-0.9)">
  <path d="M9.6 126.4L15 121" stroke="#555" stroke-width="2.4" stroke-dasharray="1.2 .5"/><path d="M16 118.6L17.4 120" stroke="#555" stroke-width="1.8"/><path d="M8 128L8.7 125.4L10.6 127.3Z" fill="#555"/>
  </g>
  <g transform="translate(0,-1.4)">
  <rect x="8.8" y="140.7" width="8.3" height="8.3" rx="1.5" fill="#5e5e5e"/><rect x="10.3" y="142" width="5.3" height="2" fill="#fff"/><rect x="10.8" y="145.8" width="4.3" height="3.2" fill="#fff"/><rect x="12.3" y="145.8" width="1.3" height="3.2" fill="#5e5e5e"/>
  <circle cx="12.5" cy="166.3" r="5.8" fill="#5e5e5e"/><rect x="11.6" y="162.3" width="1.9" height="1.7" fill="#fff"/><rect x="11.6" y="165" width="1.9" height="5" fill="#fff"/>
  </g>
  <path d="M10 185.8L15.5 191.2M15.5 185.8L10 191.2" stroke="#555" stroke-width="2"/>
  </g>
 </svg>
</div>
<!-- submenu -->
<div class="a" style="left:174.5px;top:512px;width:135.5px;height:93.5px;background:#fff;border:1px solid #8e8e8e;border-radius:5px">
 <div class="mi" style="top:5.5px;left:24px">Data Set</div>
 <div class="mi" style="top:27.5px;left:24px">Design</div>
 <div class="mi" style="top:49.5px;left:24px">Properties</div>
 <div class="mi" style="top:71.5px;left:24px">Exceptions</div>
</div>

</body></html>
